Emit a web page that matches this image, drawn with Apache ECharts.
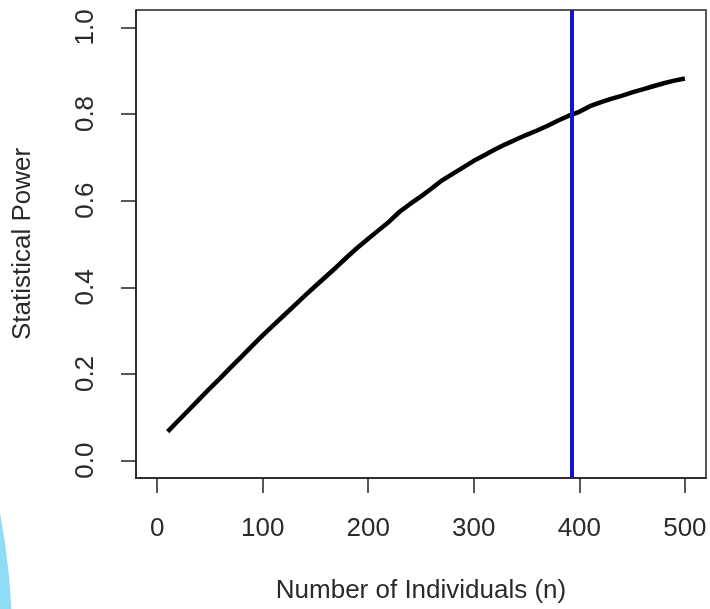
<!DOCTYPE html>
<html>
<head>
<meta charset="utf-8">
<script src="https://cdn.jsdelivr.net/npm/echarts@6/dist/echarts.min.js"></script>
<style>
html,body{margin:0;padding:0;background:#fff;}
#chart{width:710px;height:609px;}
</style>
</head>
<body>
<div id="chart"></div>
<script>
const nValues = [10,20,30,40,50,60,70,80,90,100,110,120,130,140,150,160,170,180,190,200,210,220,230,240,250,260,270,280,290,300,310,320,330,340,350,360,370,380,390,400,410,420,430,440,450,460,470,480,490,500];
const powerValues = [0.067,0.092,0.117,0.142,0.167,0.191,0.216,0.240,0.265,0.289,0.312,0.335,0.358,0.381,0.403,0.425,0.447,0.470,0.492,0.512,0.532,0.552,0.575,0.593,0.610,0.628,0.647,0.662,0.677,0.692,0.705,0.718,0.730,0.741,0.752,0.762,0.773,0.785,0.796,0.805,0.818,0.827,0.835,0.842,0.850,0.857,0.864,0.871,0.877,0.882];
const thresholdN = 393;
const xTicks = [0,100,200,300,400,500];
const yTicks = [0,0.2,0.4,0.6,0.8,1.0];

const chart = echarts.init(document.getElementById('chart'), null, {renderer:'canvas'});
const font = 'Liberation Sans, Arial, sans-serif';
const textColor = '#2a2a2a';
chart.setOption({
  animation:false,
  backgroundColor:'#ffffff',
  graphic:[{
    type:'circle', silent:true, z:-1,
    shape:{cx:-666, cy:640, r:678},
    style:{fill:'#8fdcf7'}
  }],
  grid:{left:136, right:4, top:10, bottom:131, show:true, borderColor:'#222', borderWidth:1.5, backgroundColor:'transparent'},
  xAxis:{
    type:'value', min:-20, max:520,
    axisLine:{show:true, onZero:false, lineStyle:{color:'#222', width:1.5}},
    splitLine:{show:false},
    axisTick:{show:true, inside:false, length:15, lineStyle:{color:'#222', width:1.5}, customValues:xTicks},
    axisLabel:{customValues:xTicks, margin:38, fontSize:26, fontFamily:font, color:textColor},
    name:'Number of Individuals (n)', nameLocation:'middle', nameGap:100,
    nameTextStyle:{fontSize:26, fontFamily:font, color:textColor}
  },
  yAxis:{
    type:'value', min:-0.04, max:1.04,
    axisLine:{show:true, onZero:false, lineStyle:{color:'#222', width:1.5}},
    splitLine:{show:false},
    axisTick:{show:true, inside:false, length:15, lineStyle:{color:'#222', width:1.5}, customValues:yTicks},
    axisLabel:{customValues:yTicks, rotate:90, margin:37, fontSize:26, fontFamily:font, color:textColor,
      formatter:function(v){return v.toFixed(1);}},
    name:'Statistical Power', nameLocation:'middle', nameGap:100, nameRotate:90,
    nameTextStyle:{fontSize:26, fontFamily:font, color:textColor}
  },
  series:[{
    type:'line',
    data:nValues.map((n,i)=>[n,powerValues[i]]),
    showSymbol:false, smooth:false,
    lineStyle:{color:'#000', width:4.5},
    z:3
  },{
    type:'line',
    data:[],
    markLine:{
      silent:true, symbol:['none','none'],
      label:{show:false},
      lineStyle:{color:'#1414c8', width:4, type:'solid'},
      data:[{xAxis:thresholdN}]
    },
    z:4
  }]
});
</script>
</body>
</html>
